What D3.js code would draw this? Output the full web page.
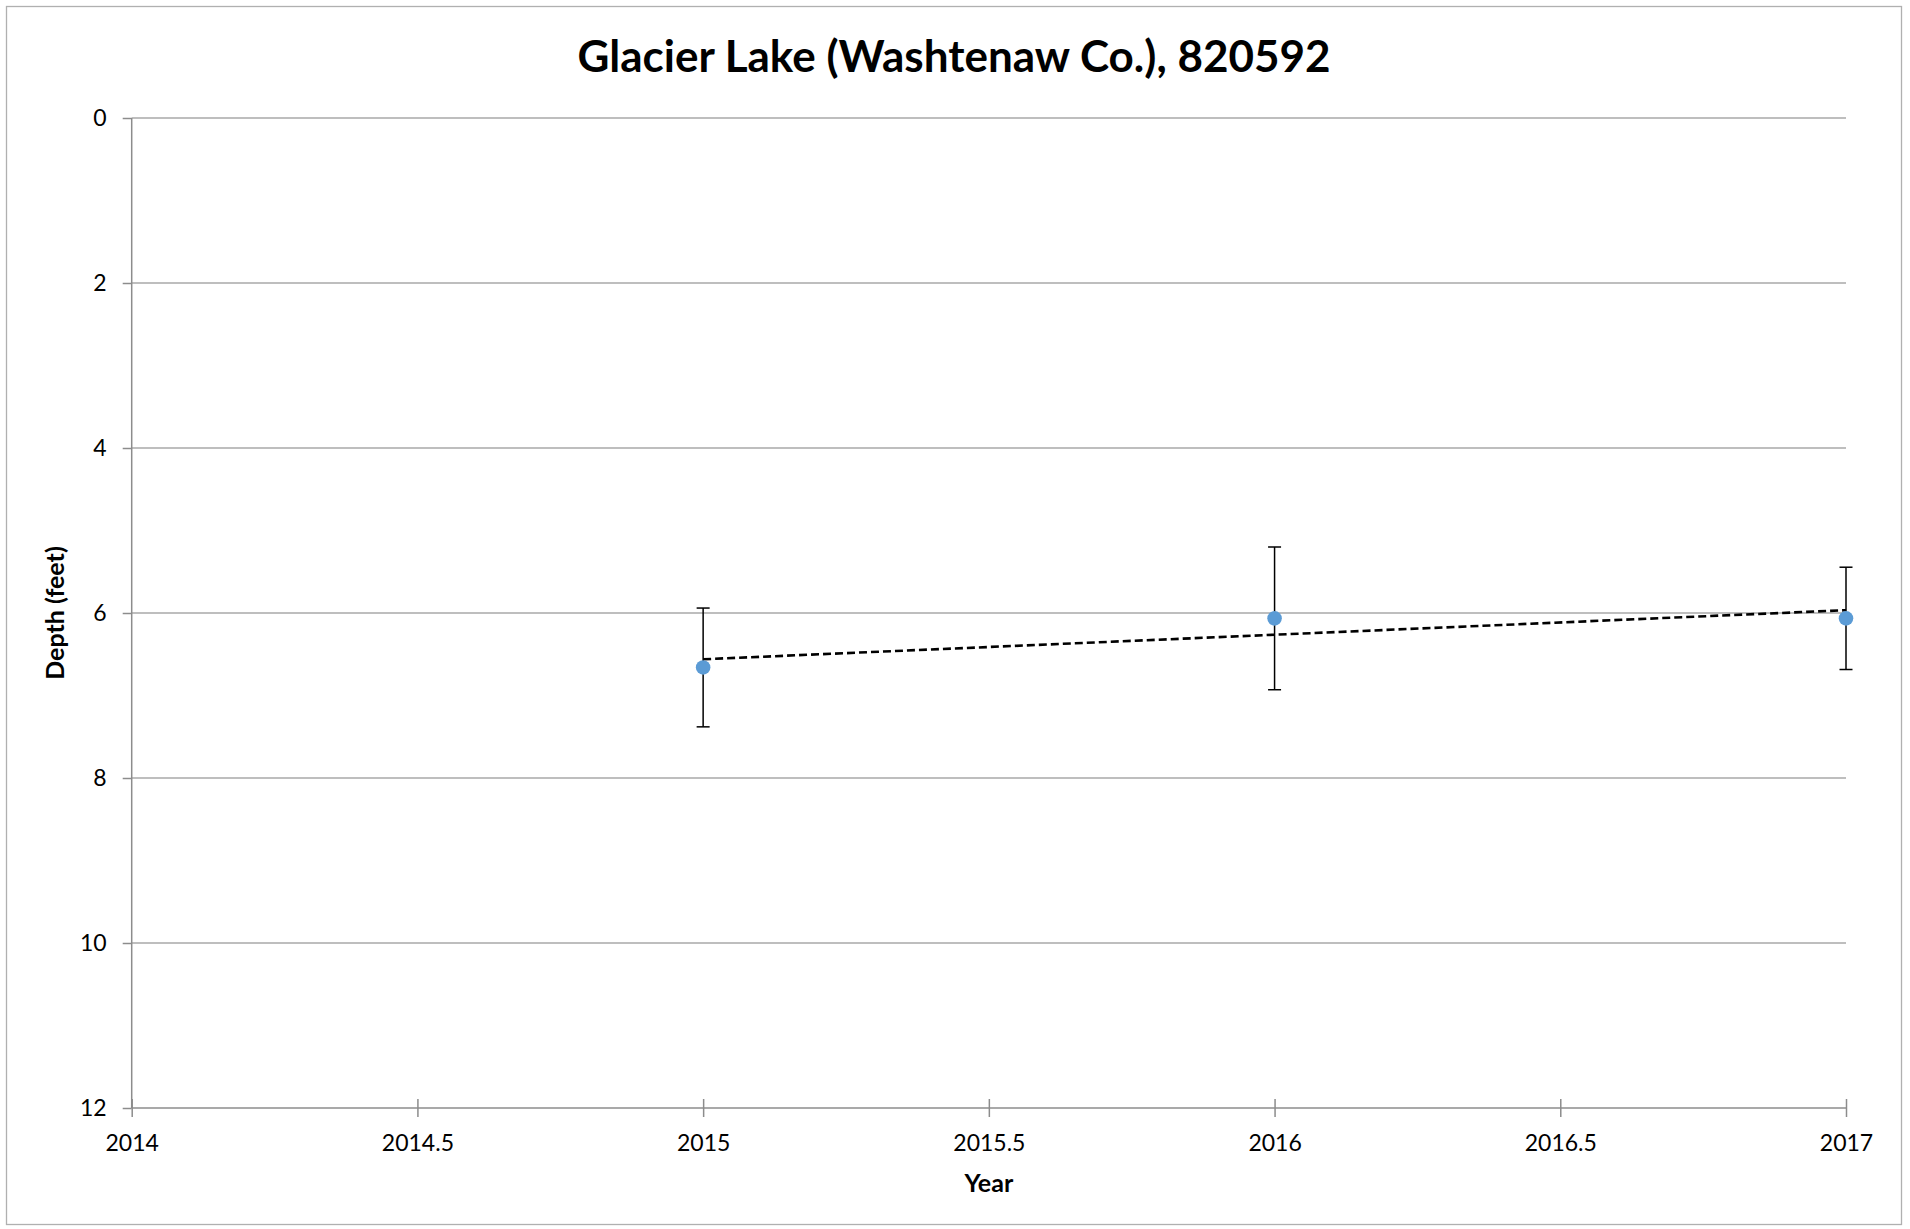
<!DOCTYPE html>
<html>
<head>
<meta charset="utf-8">
<script src="https://cdn.jsdelivr.net/npm/d3@7"></script>
<style>
  html, body { margin: 0; padding: 0; background: #fff; }
  svg { display: block; }
  text { font-family: Lato, "Open Sans", sans-serif; fill: #000; }
</style>
</head>
<body>
<svg id="chart" width="1910" height="1229"></svg>
<script>
const title = "Glacier Lake (Washtenaw Co.), 820592";
const years = [2015, 2016, 2017];
const depths = [6.66, 6.065, 6.065];
const errors = [0.72, 0.865, 0.62];
const xTicks = [2014, 2014.5, 2015, 2015.5, 2016, 2016.5, 2017];
const yTicks = [0, 2, 4, 6, 8, 10, 12];
const xLabel = "Year";
const yLabel = "Depth (feet)";

const svg = d3.select("#chart");
const m = { left: 131.7, right: 1846, top: 118, bottom: 1108 };

svg.append("rect").attr("x", 6.5).attr("y", 6.5).attr("width", 1895).attr("height", 1218)
  .attr("fill", "#fff").attr("stroke", "#b0b0b0").attr("stroke-width", 1.3);

const x = d3.scaleLinear().domain([2014, 2017]).range([m.left, m.right]);
const y = d3.scaleLinear().domain([0, 12]).range([m.top, m.bottom]);

// gridlines
svg.append("g").selectAll("line").data(yTicks.filter(d => d !== 12)).join("line")
  .attr("x1", m.left).attr("x2", m.right)
  .attr("y1", d => y(d)).attr("y2", d => y(d))
  .attr("stroke", "#bebebe").attr("stroke-width", 2.2);

// y axis
const yAxis = svg.append("g").attr("transform", `translate(${m.left},0)`)
  .call(d3.axisLeft(y).tickValues(yTicks).tickSize(9).tickPadding(16).tickFormat(d3.format("d")));
// x axis
const xAxis = svg.append("g").attr("transform", `translate(0,${m.bottom})`)
  .call(d3.axisBottom(x).tickValues(xTicks).tickSizeInner(9).tickSizeOuter(0).tickPadding(18)
    .tickFormat(d => String(d)));
xAxis.selectAll(".tick line").attr("y1", -9).attr("y2", 9);
[yAxis, xAxis].forEach(a => {
  a.select(".domain").attr("stroke", "#8c8c8c").attr("stroke-width", 1.5);
  a.selectAll(".tick line").attr("stroke", "#8c8c8c").attr("stroke-width", 1.5);
  a.selectAll(".tick text").attr("font-size", 23).attr("font-family", "Lato, 'Open Sans', sans-serif").attr("fill", "#000");
});
yAxis.select(".domain").attr("d", `M0,${m.top}V${m.bottom}`);
xAxis.select(".domain").attr("d", `M${m.left},0H${m.right}`);

// trend line (least-squares fit)
const mx = d3.mean(years), my = d3.mean(depths);
const slope = d3.sum(years.map((v, i) => (v - mx) * (depths[i] - my))) / d3.sum(years.map(v => (v - mx) ** 2));
const icpt = my - slope * mx;
const x0 = d3.min(years), x1 = d3.max(years);
svg.append("line")
  .attr("x1", x(x0)).attr("y1", y(icpt + slope * x0))
  .attr("x2", x(x1)).attr("y2", y(icpt + slope * x1))
  .attr("stroke", "#000").attr("stroke-width", 2.6).attr("stroke-dasharray", "8,4");

// error bars
const eb = svg.append("g");
years.forEach((yr, i) => {
  const cx = x(yr), t = y(depths[i] - errors[i]), b = y(depths[i] + errors[i]);
  eb.append("line").attr("x1", cx).attr("x2", cx).attr("y1", t).attr("y2", b)
    .attr("stroke", "#000").attr("stroke-width", 1.5);
  [t, b].forEach(v => eb.append("line").attr("x1", cx - 6.5).attr("x2", cx + 6.5)
    .attr("y1", v).attr("y2", v).attr("stroke", "#000").attr("stroke-width", 1.5));
});

// points
svg.append("g").selectAll("circle").data(years).join("circle")
  .attr("cx", d => x(d)).attr("cy", (d, i) => y(depths[i])).attr("r", 7.3)
  .attr("fill", "#5b9bd5");

// title
svg.append("text").attr("x", 954).attr("y", 72).attr("text-anchor", "middle")
  .attr("font-size", 44).attr("font-weight", "bold").text(title);
// axis titles
svg.append("text").attr("x", (m.left + m.right) / 2).attr("y", 1192).attr("text-anchor", "middle")
  .attr("font-size", 25).attr("font-weight", "bold").text(xLabel);
svg.append("text").attr("transform", `translate(64,${(m.top + m.bottom) / 2}) rotate(-90)`)
  .attr("text-anchor", "middle").attr("font-size", 25).attr("font-weight", "bold").text(yLabel);
</script>
</body>
</html>
